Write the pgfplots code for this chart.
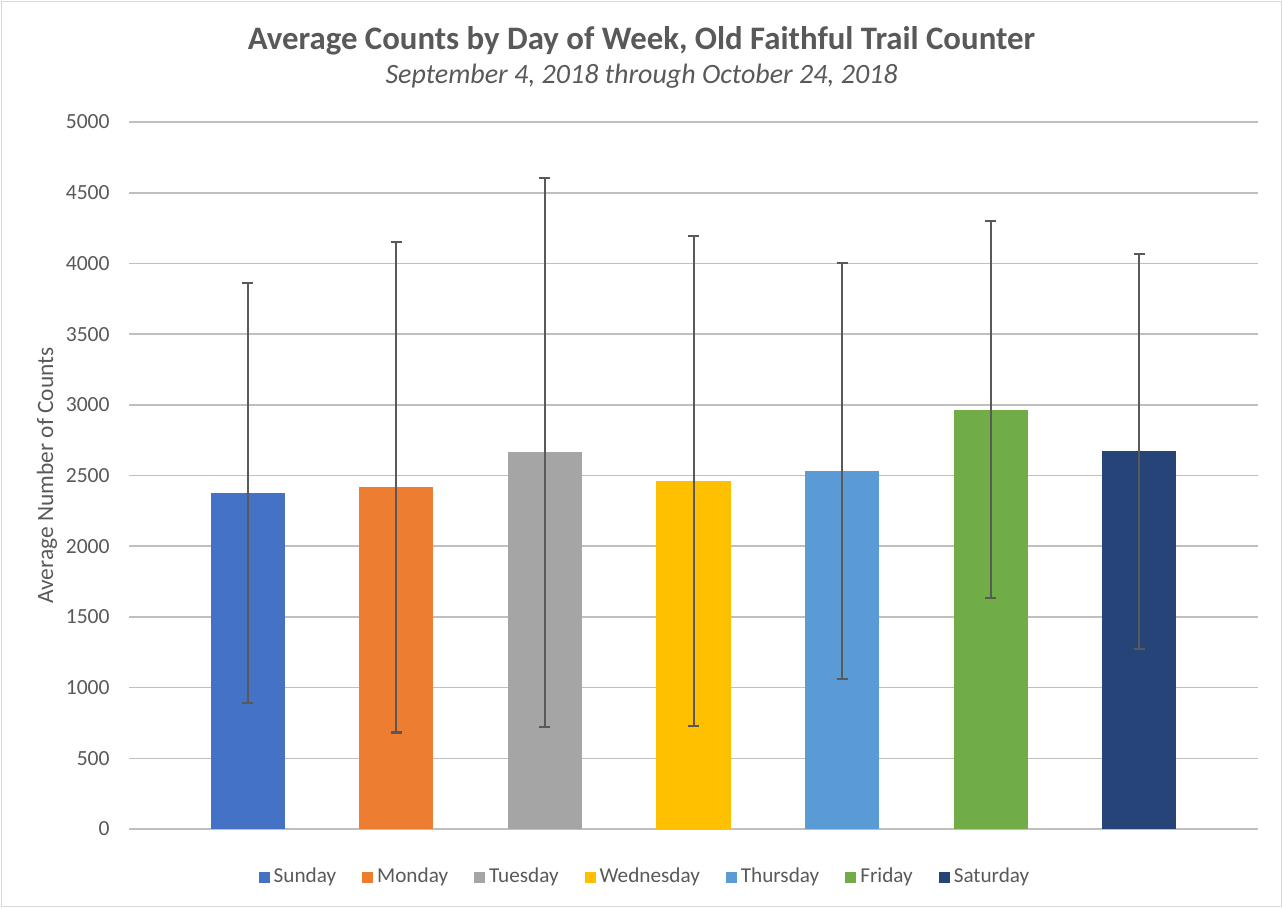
\documentclass[border=0pt]{standalone}
\usepackage{pgfplots}
\pgfplotsset{compat=1.18}
\usepackage{fontspec}
\setmainfont{Carlito}
\definecolor{cSun}{HTML}{4472C4}
\definecolor{cMon}{HTML}{ED7D31}
\definecolor{cTue}{HTML}{A5A5A5}
\definecolor{cWed}{HTML}{FFC000}
\definecolor{cThu}{HTML}{5B9BD5}
\definecolor{cFri}{HTML}{70AD47}
\definecolor{cSat}{HTML}{264478}
\definecolor{txt}{HTML}{595959}
\definecolor{grid}{HTML}{D9D9D9}
\definecolor{errc}{HTML}{595959}
\begin{document}
\begin{tikzpicture}
\useasboundingbox (-64.5pt,-40pt) rectangle (577pt,414.5pt);
\draw[grid, line width=0.6pt] (-63.8pt,-38.8pt) rectangle (576.4pt,413.9pt);
\begin{axis}[
  at={(0pt,0pt)}, anchor=south west,
  scale only axis, width=564.5pt, height=353.5pt,
  xmin=-0.8, xmax=6.8, ymin=0, ymax=5000,
  ytick={0,500,...,5000},
  xtick=\empty,
  ymajorgrids, grid style={grid, line width=0.8pt},
  axis line style={draw=none},
  tick style={draw=none},
  yticklabel style={font=\fontsize{10.8}{12}\selectfont, text=txt, inner sep=0pt, xshift=-9.5pt},
  /pgf/number format/assume math mode=true,
  /pgf/number format/1000 sep={},
  ybar, bar width=37pt, bar shift=0pt,
  every axis plot/.append style={draw=none,
    error bars/y dir=both, error bars/y explicit,
    error bars/error bar style={errc, line width=1pt},
    error bars/error mark options={errc, line width=1.1pt, mark size=2.75pt, rotate=90}},
  legend columns=-1,
  legend image code/.code={\fill[#1] (0pt,-2.75pt) rectangle (5.5pt,2.75pt);},
  legend style={at={(258.5pt,-24pt)}, anchor=center, draw=none, fill=none,
    font=\fontsize{10.6}{12}\selectfont, text=txt,
    /tikz/every even column/.append style={column sep=11pt},
    nodes={inner xsep=2pt, inner ysep=0pt}},
  clip=false,
]
\addplot[fill=cSun] coordinates {(0,2374) +- (0,1485)};
\addplot[fill=cMon] coordinates {(1,2418) +- (0,1736)};
\addplot[fill=cTue] coordinates {(2,2663) +- (0,1939)};
\addplot[fill=cWed] coordinates {(3,2461) +- (0,1735)};
\addplot[fill=cThu] coordinates {(4,2532) +- (0,1472)};
\addplot[fill=cFri] coordinates {(5,2965) +- (0,1333)};
\addplot[fill=cSat] coordinates {(6,2670) +- (0,1397)};
\legend{Sunday,Monday,Tuesday,Wednesday,Thursday,Friday,Saturday}
\end{axis}
\node[anchor=base, text=txt, font=\fontsize{16.4}{19}\selectfont\bfseries] at (256.25pt,389.5pt) {Average Counts by Day of Week, Old Faithful Trail Counter};
\node[anchor=base, text=txt, font=\fontsize{14}{16}\selectfont\itshape] at (256.25pt,372.5pt) {September 4, 2018 through October 24, 2018};
\node[rotate=90, text=txt, font=\fontsize{11.7}{13}\selectfont] at (-41pt,176.75pt) {Average Number of Counts};
\end{tikzpicture}
\end{document}
